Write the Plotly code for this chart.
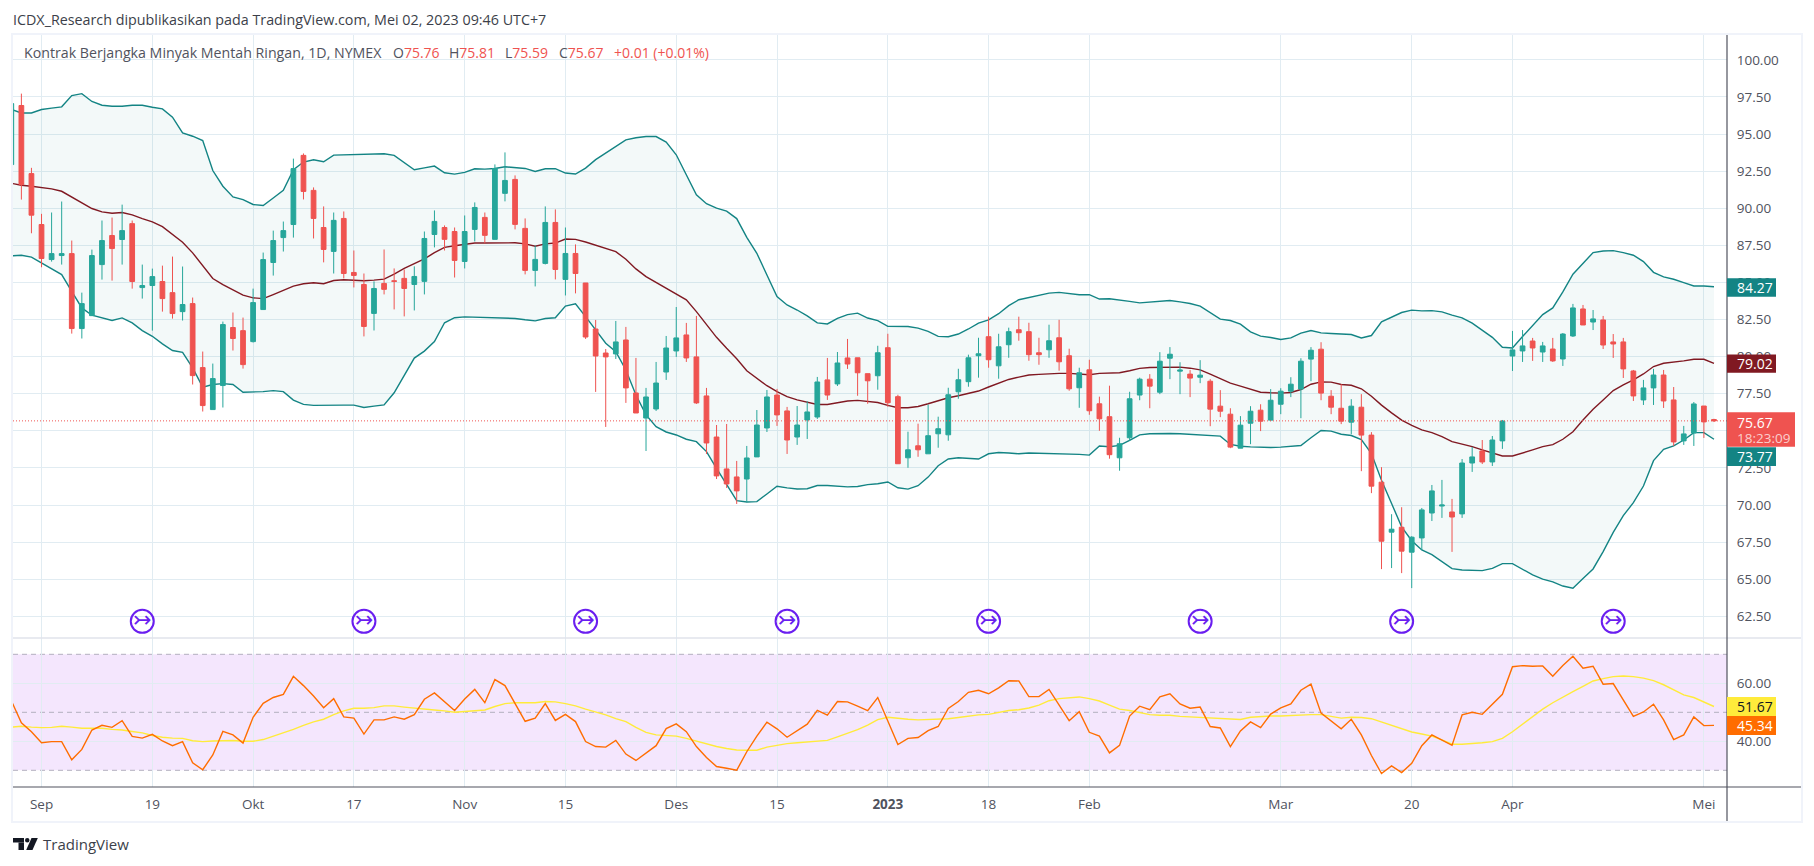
import pandas as pd
import plotly.graph_objects as go

# ---------- data ----------
holidays = ["2022-09-05", "2022-11-24", "2022-12-26", "2023-01-02", "2023-01-16", "2023-02-20", "2023-04-07"]
dates = [d.strftime("%Y-%m-%d") for d in pd.bdate_range("2022-08-29", "2023-05-02") if d.strftime("%Y-%m-%d") not in holidays]

opens = [92.94,96.92,92.33,88.9,86.54,86.81,86.94,81.89,82.76,86.2,
88.16,87.89,88.96,84.65,84.79,85.06,84.31,83.03,83.57,79.26,
76.43,78.05,81.96,81.75,81.01,83.17,86.34,88.02,88.9,93.56,
91.2,88.7,87.09,89.31,85.67,84.86,82.91,84.93,85.11,85.27,
84.86,85.07,88.23,88.7,88.43,86.41,88.57,89.38,87.9,91.0,
91.94,88.64,85.81,86.28,89.04,85.2,86.95,84.96,81.86,80.24,
80.18,81.12,77.55,75.86,76.47,78.96,80.38,81.46,79.98,77.35,
74.58,72.43,71.89,71.75,73.24,75.19,77.41,76.34,74.58,75.73,
75.93,78.43,78.16,79.91,79.92,78.85,78.71,80.6,77.3,73.18,
73.99,73.45,74.8,74.73,77.63,78.31,80.06,81.34,79.38,80.8,
81.81,81.68,80.26,80.46,81.27,80.06,77.9,79.11,76.82,75.95,
73.18,74.53,77.41,78.48,77.6,79.89,79.02,78.82,78.61,78.34,
76.66,76.12,73.83,75.51,76.39,75.72,76.79,77.67,77.81,79.83,
80.5,77.33,76.52,75.58,76.59,74.71,71.54,68.17,68.5,66.82,
67.78,69.46,69.93,69.53,69.4,72.83,73.64,72.9,74.32,80.04,
80.38,81.05,80.31,80.51,79.84,81.39,83.21,82.33,82.47,80.99,
80.99,79.03,77.08,77.89,78.76,77.08,74.32,74.85,76.67,75.76]

closes = [97.05,91.59,89.53,86.61,86.94,86.94,81.89,83.57,86.81,87.82,
87.28,88.49,85.06,84.79,85.39,83.91,82.9,83.51,78.72,76.7,
78.52,82.16,81.22,79.46,83.64,86.54,87.82,88.49,92.67,91.13,
89.31,87.22,89.18,85.6,85.47,82.03,84.59,84.53,85.07,84.59,
85.4,87.96,89.11,87.9,86.48,88.43,90.05,88.17,92.68,91.87,
88.91,85.81,86.55,89.04,85.87,86.95,85.6,81.32,80.04,79.98,
80.99,77.89,76.2,77.28,78.22,80.58,81.26,79.91,76.88,74.18,
71.96,71.42,70.95,73.17,75.39,77.28,76.07,74.38,75.39,76.27,
78.29,77.41,79.57,79.5,78.91,78.37,80.26,76.89,72.78,73.72,
73.72,74.67,75.14,77.43,78.44,79.92,80.19,79.79,80.66,81.68,
81.61,80.13,80.13,81.07,79.65,77.83,78.91,76.35,75.81,73.39,
74.13,77.16,78.48,78.01,79.69,80.16,79.09,78.55,78.75,76.46,
76.32,73.9,75.38,76.32,75.65,77.06,77.67,78.14,79.69,80.43,
77.54,76.59,75.65,76.66,74.71,71.27,67.56,68.37,66.89,67.83,
69.67,70.95,70.0,69.19,72.83,73.24,72.9,74.38,75.66,80.45,
80.72,80.58,80.72,79.71,81.52,83.28,82.13,82.54,80.78,80.85,
79.17,77.35,77.89,78.76,77.01,74.25,74.79,76.81,75.6,75.67]

highs = [97.3,97.72,92.72,89.62,89.71,90.45,87.82,84.31,87.21,89.17,
89.37,90.24,89.17,86.2,85.93,86.13,86.74,86.07,83.98,80.34,
79.53,82.36,82.97,82.63,84.58,87.01,88.49,89.1,93.34,93.69,
91.4,90.12,89.71,89.78,87.15,85.6,85.07,87.22,85.94,85.87,
86.08,88.43,89.85,88.84,88.7,89.51,90.39,89.71,92.95,93.76,
92.21,89.31,87.49,90.12,89.92,88.7,87.56,84.96,82.47,80.51,
82.4,82.0,79.91,77.89,79.64,81.39,83.34,82.27,82.74,77.89,
75.39,75.46,72.97,73.98,76.4,77.75,77.82,76.61,76.67,76.99,
78.63,79.91,80.31,81.19,79.92,78.85,80.73,81.54,77.43,74.94,
75.48,76.76,75.95,77.9,79.18,80.13,81.27,82.69,81.54,81.95,
82.69,82.28,81.27,82.15,82.48,80.53,79.25,79.79,77.3,78.04,
74.53,77.63,78.58,78.82,80.3,80.64,79.62,79.09,79.76,78.48,
77.74,76.52,75.99,76.66,76.79,77.81,77.87,78.61,79.89,80.64,
80.97,77.74,78.14,77.13,77.47,74.91,72.55,69.38,69.85,67.9,
69.8,71.35,71.69,70.41,73.1,73.91,74.38,74.65,75.73,81.73,
81.79,81.26,80.99,81.26,81.59,83.55,83.48,83.14,82.74,81.52,
81.26,79.1,78.43,79.17,79.1,77.95,75.33,76.94,76.67,75.81]

lows = [92.5,90.58,88.31,86.02,86.4,86.2,81.55,81.22,82.76,85.19,
85.12,86.2,84.58,83.91,81.75,83.03,82.56,82.43,78.12,76.3,
76.43,76.57,80.41,79.19,80.95,83.17,85.46,87.08,88.02,90.59,
87.96,86.35,85.6,85.27,84.66,81.36,81.76,84.19,83.18,82.71,
83.11,84.19,87.36,87.15,85.33,85.94,87.76,87.63,87.9,90.46,
88.57,85.54,84.73,86.21,85.2,84.12,84.26,81.19,77.62,75.26,
79.84,76.88,76.2,73.64,76.34,78.43,79.98,79.64,76.81,73.44,
71.75,71.15,70.07,70.2,73.24,74.92,75.33,73.44,74.05,74.45,
75.8,77.08,78.02,79.17,77.36,76.82,77.77,76.62,72.78,72.51,
73.25,73.45,73.86,74.33,77.16,77.97,78.58,79.25,78.51,79.92,
81.07,79.72,79.45,79.92,79.05,77.7,76.55,76.08,75.0,73.12,
72.31,74.33,77.06,76.52,77.47,78.48,77.47,77.27,78.21,75.31,
75.92,73.83,73.83,74.1,74.98,75.65,76.12,77.27,75.85,78.34,
77.06,76.12,75.45,74.77,72.28,70.8,65.68,65.75,65.41,64.4,
66.97,68.92,69.13,66.84,69.13,72.23,72.76,72.63,73.78,79.03,
79.64,79.71,79.64,79.64,79.37,81.32,82.13,81.79,80.51,79.91,
78.56,77.01,76.74,76.74,76.54,73.98,74.05,73.98,74.52,75.59]

bb_upper = [96.65,96.42,96.42,96.65,96.74,96.83,97.59,97.72,97.19,96.94,
96.87,96.87,96.94,96.94,96.8,96.69,96.13,95.07,94.85,94.56,
92.54,91.48,90.76,90.58,90.25,90.18,90.69,91.21,92.6,93.11,
93.26,93.13,93.58,93.6,93.6,93.6,93.65,93.67,93.56,93.06,
92.59,92.72,92.84,92.39,92.3,92.41,92.66,92.63,92.68,92.79,
92.72,92.68,92.48,92.66,92.66,92.37,92.3,92.7,93.27,93.72,
94.14,94.6,94.75,94.83,94.83,94.45,93.6,92.2,90.9,90.3,
90.0,89.8,89.3,88.04,86.96,85.5,84.04,83.48,83.14,82.74,
82.27,82.2,82.58,82.83,82.93,82.6,82.42,82.04,82.01,82.03,
81.92,81.7,81.36,81.34,81.52,81.86,82.26,82.48,82.89,83.43,
83.83,83.99,84.15,84.28,84.33,84.26,84.17,84.17,83.88,83.9,
83.83,83.72,83.62,83.67,83.74,83.78,83.69,83.58,83.4,82.97,
82.52,82.43,82.19,81.67,81.38,81.29,81.15,81.26,81.58,81.76,
81.6,81.56,81.53,81.49,81.26,81.42,82.34,82.63,82.97,83.13,
83.08,83.1,83.01,82.79,82.61,82.25,81.79,81.3,80.63,80.58,
81.35,82.06,82.83,83.28,84.36,85.55,86.29,87.01,87.12,87.14,
87.01,86.83,86.4,85.68,85.37,85.21,84.99,84.76,84.76,84.71]

bb_basis = [91.68,91.55,91.48,91.39,91.3,91.14,90.76,90.36,89.98,89.75,
89.66,89.71,89.55,89.3,89.08,88.76,88.22,87.71,86.99,86.09,
85.26,84.85,84.52,84.14,83.96,83.91,84.18,84.49,84.75,84.91,
84.98,84.91,85.13,85.18,85.15,85.11,85.15,85.22,85.56,85.94,
86.26,86.59,87.0,87.36,87.47,87.58,87.65,87.65,87.65,87.67,
87.67,87.6,87.44,87.6,87.65,87.92,87.9,87.72,87.5,87.3,
87.07,86.56,85.91,85.39,85.01,84.63,84.22,83.82,83.03,82.13,
81.3,80.56,79.86,79.05,78.54,78.04,77.64,77.3,77.08,76.9,
76.77,76.77,76.9,77.01,77.05,76.98,76.91,76.71,76.55,76.55,
76.64,76.82,77.03,77.23,77.36,77.5,77.68,77.95,78.22,78.46,
78.62,78.76,78.8,78.85,78.87,78.87,78.8,78.78,78.87,78.89,
78.91,79.05,79.21,79.27,79.27,79.31,79.29,79.22,79.11,78.82,
78.5,78.21,78.01,77.81,77.6,77.56,77.54,77.58,77.78,78.14,
78.3,78.28,78.12,78.07,77.83,77.33,76.73,76.21,75.72,75.36,
75.06,74.88,74.61,74.27,74.12,73.93,73.71,73.48,73.3,73.3,
73.48,73.71,73.93,74.07,74.43,74.94,75.73,76.45,77.08,77.71,
78.09,78.43,78.83,79.33,79.55,79.62,79.71,79.82,79.82,79.55]

bb_lower = [86.79,86.83,86.7,86.31,85.93,85.53,84.4,83.28,82.79,82.61,
82.43,82.61,82.27,81.75,81.37,80.86,80.41,80.29,79.24,77.94,
78.12,78.18,78.12,77.6,77.6,77.64,77.71,77.64,77.07,76.78,
76.71,76.73,76.71,76.73,76.73,76.57,76.66,76.75,77.56,78.73,
79.9,80.37,81.02,82.28,82.62,82.68,82.66,82.66,82.66,82.59,
82.57,82.48,82.41,82.57,82.62,83.4,83.56,82.69,81.79,80.9,
80.33,79.1,77.41,76.07,75.28,74.92,74.72,74.43,74.27,73.6,
72.47,71.35,70.29,70.2,70.23,70.74,71.26,71.15,71.08,71.1,
71.31,71.31,71.26,71.22,71.25,71.37,71.43,71.55,71.16,71.07,
71.3,71.88,72.65,73.1,73.18,73.12,73.1,73.45,73.54,73.5,
73.45,73.5,73.48,73.45,73.48,73.43,73.41,73.36,73.97,73.93,
74.02,74.35,74.73,74.8,74.82,74.82,74.8,74.77,74.75,74.68,
74.64,74.08,73.96,73.92,73.87,73.87,73.9,73.94,74.01,74.53,
75.02,74.98,74.77,74.68,74.41,73.47,71.67,70.1,68.53,67.59,
66.97,66.66,66.18,65.71,65.62,65.58,65.58,65.73,66.05,66.05,
65.67,65.29,65.0,64.82,64.54,64.39,65.04,65.69,66.86,68.16,
69.28,70.16,71.28,72.99,73.75,73.98,74.38,74.88,74.88,74.43]

rsi = [54.0,46.4,43.3,39.5,39.9,39.9,33.6,37.2,43.9,45.5,
44.8,47.1,41.7,41.1,42.4,40.1,38.5,39.9,32.6,30.2,
35.3,43.4,42.2,39.4,48.3,53.1,55.1,56.2,62.4,59.2,
55.6,51.6,54.7,48.4,48.0,42.5,47.4,47.4,48.4,47.6,
49.2,54.5,56.7,53.7,50.6,54.6,57.9,53.3,61.3,59.2,
52.8,46.9,48.0,53.0,47.2,49.3,46.8,39.9,38.2,38.0,
40.3,35.6,33.4,36.0,38.5,44.4,46.0,43.3,38.2,34.4,
31.3,30.7,30.0,36.4,41.8,46.6,44.3,41.4,43.7,45.9,
50.7,49.0,53.7,53.6,52.1,50.6,55.1,46.8,38.9,41.0,
41.3,43.7,45.1,51.3,53.7,56.9,57.6,56.4,58.4,60.9,
60.8,55.4,55.4,57.9,52.5,47.1,50.2,43.1,41.8,36.0,
38.6,48.7,52.1,50.9,55.3,56.4,52.9,51.4,51.8,45.1,
44.6,38.2,43.6,46.7,44.7,49.4,51.5,52.9,57.6,59.7,
49.7,47.0,44.3,47.6,42.2,35.1,28.9,31.5,29.2,32.4,
38.5,42.2,40.5,38.6,49.1,50.0,49.3,52.9,56.2,65.7,
66.1,65.9,66.0,62.4,66.1,69.3,65.2,65.9,59.7,59.9,
54.3,48.6,50.1,52.8,47.4,40.6,42.2,48.4,45.4,45.5]

rsi_ma = [44.9,45.2,44.9,44.7,44.8,45.2,44.9,44.5,44.5,44.5,
44.1,43.9,43.4,42.9,42.0,41.4,41.1,41.0,40.2,39.9,
40.1,40.3,40.3,40.0,40.0,40.6,41.7,42.8,44.1,45.5,
46.7,47.6,49.2,50.5,51.4,51.4,51.6,52.2,52.2,51.8,
51.4,51.1,50.8,50.5,50.0,50.3,50.6,50.8,52.0,53.0,
53.3,53.3,53.3,53.7,53.6,53.0,52.2,51.1,50.1,49.1,
47.8,46.8,44.8,43.1,42.2,42.1,41.8,41.0,40.0,39.1,
38.2,37.5,37.0,36.9,36.9,38.0,38.7,39.2,39.5,39.7,
40.0,40.3,41.5,42.8,44.0,45.6,47.5,48.3,47.9,47.6,
47.4,47.5,47.6,47.8,48.2,48.7,49.1,49.3,49.9,50.6,
50.9,51.5,52.5,54.0,54.7,54.9,55.3,54.7,53.9,52.5,
51.1,50.6,49.9,49.2,49.0,49.0,48.6,48.4,48.3,48.0,
47.7,47.6,47.5,48.3,48.6,48.7,48.7,48.9,49.1,49.2,
49.2,48.7,48.0,48.3,48.2,47.8,46.6,45.5,44.3,43.2,
42.5,41.8,40.5,39.0,39.0,39.2,39.5,39.9,41.0,43.3,
46.0,48.5,51.1,53.3,55.3,57.1,58.9,60.8,61.6,62.3,
62.5,62.3,61.8,60.9,59.5,57.7,56.0,55.1,53.6,52.0]

for name, arr in [("dates",dates),("opens",opens),("closes",closes),("highs",highs),("lows",lows),("up",bb_upper),
                  ("mid",bb_basis),("lo",bb_lower),("rsi",rsi),("ma",rsi_ma)]:
    if len(arr) != 170:
        raise SystemExit(f"{name} has {len(arr)}")

tick_dates = ["2022-09-01","2022-09-19","2022-10-03","2022-10-17","2022-11-01","2022-11-15","2022-12-01","2022-12-15",
              "2023-01-03","2023-01-18","2023-02-01","2023-03-01","2023-03-20","2023-04-03","2023-05-01"]
tick_labels = ["Sep","19","Okt","17","Nov","15","Des","15","<b>2023</b>","18","Feb","Mar","20","Apr","Mei"]
event_idx = [13,35,57,77,97,118,138,159]
event_level = [62.16]*8
price_ticks = [62.5+2.5*k for k in range(16)]
rsi_ticks = [40,60]
rsi_levels = [70,50,30]
last_price = 75.67

# ---------- layout constants ----------
W,H = 1814,866
L,R,T,B = 13,1727,35,787
SEP = 638
PW,PH = R-L,B-T
def px(x): return (x-L)/PW
def py(y): return 1-(y-T)/PH
FONT = "Open Sans"
TXT = "#50535E"
GRID = "#E1ECF2"
TEAL = "#138484"
RED = "#EF5350"
GREEN = "#26A69A"

fig = go.Figure()
x = dates
# bands
fig.add_trace(go.Scatter(x=x,y=bb_upper,mode="lines",line=dict(color=TEAL,width=1.4),xaxis="x",yaxis="y",hoverinfo="skip"))
fig.add_trace(go.Scatter(x=x,y=bb_lower,mode="lines",line=dict(color=TEAL,width=1.4),fill="tonexty",fillcolor="rgba(19,132,132,0.05)",xaxis="x",yaxis="y",hoverinfo="skip"))
fig.add_trace(go.Scatter(x=x,y=bb_basis,mode="lines",line=dict(color="#801922",width=1.4),xaxis="x",yaxis="y",hoverinfo="skip"))
# candles on an overlay so that they sit above the bands
fig.add_trace(go.Candlestick(x=x,open=opens,high=highs,low=lows,close=closes,xaxis="x",yaxis="y3",
    increasing=dict(line=dict(color=GREEN,width=1),fillcolor=GREEN),
    decreasing=dict(line=dict(color=RED,width=1),fillcolor=RED),whiskerwidth=0))
# events
ev_x=[dates[i] for i in event_idx]
fig.add_trace(go.Scatter(x=ev_x,y=event_level,mode="markers",xaxis="x",yaxis="y3",
    marker=dict(symbol="circle-open",size=23,color="#6A1EF0",line=dict(color="#6A1EF0",width=2))))
fig.add_trace(go.Scatter(x=ev_x,y=event_level,mode="text",text=["↣"]*8,xaxis="x",yaxis="y3",
    textfont=dict(family="DejaVu Sans",size=22,color="#6A1EF0"),textposition="middle center"))
# rsi
fig.add_trace(go.Scatter(x=x,y=rsi_ma,mode="lines",line=dict(color="#FFEB3B",width=1.4),xaxis="x2",yaxis="y2"))
fig.add_trace(go.Scatter(x=x,y=rsi,mode="lines",line=dict(color="#FF6D00",width=1.4),xaxis="x2",yaxis="y2"))

split=(B-SEP)/PH
xrange_=[(L-11.3)/10.075,(R-11.3)/10.075]
top_range=[87.5-(SEP-245.3)/14.84,87.5+(245.3-T)/14.84]
rsi_range=[30-(B-770.3)/2.9,70+(654.3-SEP)/2.9]
common_x=dict(type="category",categoryorder="array",categoryarray=dates,range=xrange_,showgrid=True,gridcolor=GRID,gridwidth=1,
              tickmode="array",tickvals=tick_dates,zeroline=False,fixedrange=True,showline=False)
AX_FONT=dict(family=FONT,size=13.5,color=TXT)
fig.update_layout(
    width=W,height=H,margin=dict(l=L,r=W-R,t=T,b=H-B),paper_bgcolor="white",plot_bgcolor="white",showlegend=False,
    font=dict(family=FONT,size=13,color=TXT),boxgap=0.33,hovermode=False,
    xaxis=dict(**common_x,anchor="y",showticklabels=False,rangeslider=dict(visible=False),domain=[0,1],ticks=""),
    xaxis2=dict(**common_x,anchor="y2",ticktext=tick_labels,ticks="outside",ticklen=5,tickcolor="rgba(0,0,0,0)",domain=[0,1],
                tickfont=AX_FONT,rangeslider=dict(visible=False)),
    yaxis=dict(domain=[split,1],range=top_range,side="right",tickmode="array",tickvals=price_ticks,tickformat=".2f",
               showgrid=True,gridcolor=GRID,zeroline=False,ticks="outside",ticklen=6,tickcolor="rgba(0,0,0,0)",
               tickfont=AX_FONT,fixedrange=True,showline=False),
    yaxis3=dict(domain=[split,1],range=top_range,overlaying="y",visible=False,fixedrange=True),
    yaxis2=dict(domain=[0,split],range=rsi_range,side="right",tickmode="array",tickvals=rsi_ticks,tickformat=".2f",
                showgrid=True,gridcolor=GRID,zeroline=False,ticks="outside",ticklen=6,tickcolor="rgba(0,0,0,0)",
                tickfont=AX_FONT,fixedrange=True,showline=False),
)

shapes=[]
def paper_rect(x0,y0,x1,y1,color,layer="above"):
    shapes.append(dict(type="rect",xref="paper",yref="paper",x0=px(x0),x1=px(x1),y0=py(y0),y1=py(y1),
                       fillcolor=color,line=dict(width=0),layer=layer))
def paper_line(x0,y0,x1,y1,color,width=1):
    shapes.append(dict(type="line",xref="paper",yref="paper",x0=px(x0),x1=px(x1),y0=py(y0),y1=py(y1),
                       line=dict(color=color,width=width),layer="above"))

# rsi band and levels
shapes.append(dict(type="rect",xref="paper",yref="y2",x0=0,x1=1,y0=30,y1=70,fillcolor="#F4E6FD",line=dict(width=0),layer="below"))
for lv in rsi_levels:
    shapes.append(dict(type="line",xref="paper",yref="y2",x0=0,x1=1,y0=lv,y1=lv,line=dict(color="#B2AFBE",width=1,dash="5px,4px"),layer="below"))
# last price line
shapes.append(dict(type="line",xref="paper",yref="y",x0=0,x1=1,y0=last_price,y1=last_price,line=dict(color=RED,width=1,dash="1px,2px"),layer="above"))
# frame
FR="#F0F3FA"
paper_rect(11,33,1801,35,FR); paper_rect(11,33,13,823,FR); paper_rect(11,821,1801,823,FR); paper_rect(1801,33,1803,823,FR)
paper_line(L,SEP,1801,SEP,"#E0E3EB",1.5)
paper_line(L,B,1801,B,TXT,1.2)
paper_line(R,35,R,821,TXT,1.2)

# value labels on the price axis
labels=[("84.27",278.3,296.7,TEAL,"white"),("79.02",354.5,372.7,"#801922","white"),
        ("73.77",447.3,466,TEAL,"white"),("51.67",697,716,"#FFEB3B","#131722"),("45.34",716,735,"#FF6D00","white")]
anns=[]
for t,y0,y1,bg,fg in labels:
    paper_rect(R,y0,1776,y1,bg)
    anns.append(dict(xref="paper",yref="paper",x=px(1735),y=py((y0+y1)/2),text=t,showarrow=False,xanchor="left",yanchor="middle",
                     font=dict(family=FONT,size=14,color=fg)))
paper_rect(R,412.3,1795,446.7,RED)
anns.append(dict(xref="paper",yref="paper",x=px(1735),y=py(422),text="75.67",showarrow=False,xanchor="left",yanchor="middle",font=dict(family=FONT,size=14,color="white")))
anns.append(dict(xref="paper",yref="paper",x=px(1735),y=py(438),text="18:23:09",showarrow=False,xanchor="left",yanchor="middle",font=dict(family=FONT,size=13.5,color="rgba(255,255,255,0.72)")))

# header texts
def text(xp,yp,t,size=14,color=TXT):
    anns.append(dict(xref="paper",yref="paper",x=px(xp),y=py(yp),text=t,showarrow=False,xanchor="left",yanchor="middle",
                     font=dict(family=FONT,size=size,color=color)))
text(11,19.5,"ICDX_Research dipublikasikan pada TradingView.com, Mei 02, 2023 09:46 UTC+7",size=14.3,color="#3c3f4a")
text(22,53,"Kontrak Berjangka Minyak Mentah Ringan, 1D, NYMEX",size=14.2)
for xp,l,v in [(391,"O",opens[-1]),(447,"H",highs[-1]),(503,"L",lows[-1]),(557,"C",closes[-1])]:
    text(xp,53,f'{l}<span style="color:{RED}">{v:.2f}</span>',size=14)
text(612,53,"+0.01 (+0.01%)",size=14,color=RED)
text(41,844,"TradingView",size=15,color="#3c3f4a")

# logo
LOGO="#131722"
paper_rect(13,838,24,842.5,LOGO); paper_rect(18.5,842.5,24,850,LOGO)
shapes.append(dict(type="circle",xref="paper",yref="paper",x0=px(25),x1=px(29.5),y0=py(838),y1=py(842.5),fillcolor=LOGO,line=dict(width=0),layer="above"))
shapes.append(dict(type="path",xref="paper",yref="paper",
    path=f"M {px(31.5)} {py(838)} L {px(37.8)} {py(838)} L {px(32.5)} {py(850)} L {px(26.2)} {py(850)} Z",fillcolor=LOGO,line=dict(width=0),layer="above"))

fig.update_layout(shapes=shapes,annotations=anns)
fig.write_html("out.html",config=dict(displayModeBar=False),post_script="document.body.style.margin='0';document.body.style.background='white';")
